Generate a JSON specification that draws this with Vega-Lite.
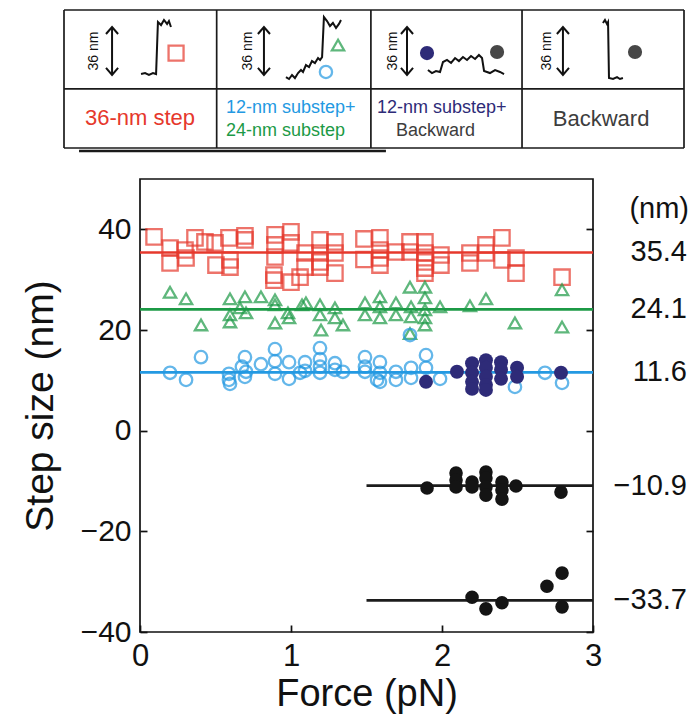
{
  "$schema": "https://vega.github.io/schema/vega-lite/v6.json",
  "width": 453,
  "height": 453,
  "autosize": {"type": "none"},
  "padding": {"left": 140, "top": 179, "right": 100, "bottom": 88},
  "background": "white",
  "config": {
    "font": "Liberation Sans",
    "view": {"stroke": "#111", "strokeWidth": 1.7}
  },
  "datasets": {
    "levels": [
      {"kind": "36-nm step", "step": 35.4, "from": 0, "to": 3, "label": "35.4"},
      {"kind": "24-nm substep", "step": 24.1, "from": 0, "to": 3, "label": "24.1"},
      {"kind": "12-nm substep", "step": 11.6, "from": 0, "to": 3, "label": "11.6"},
      {"kind": "backward", "step": -10.9, "from": 1.5, "to": 3, "label": "−10.9"},
      {"kind": "backward", "step": -33.7, "from": 1.5, "to": 3, "label": "−33.7"}
    ],
    "unit": [{"label": "(nm)", "at": 44}],
    "steps": [
      {"force": 0.093, "step": 38.5, "kind": "36-nm step"},
      {"force": 0.199, "step": 36.3, "kind": "36-nm step"},
      {"force": 0.199, "step": 33.3, "kind": "36-nm step"},
      {"force": 0.298, "step": 35.9, "kind": "36-nm step"},
      {"force": 0.305, "step": 34.3, "kind": "36-nm step"},
      {"force": 0.364, "step": 38.3, "kind": "36-nm step"},
      {"force": 0.430, "step": 37.5, "kind": "36-nm step"},
      {"force": 0.497, "step": 37.3, "kind": "36-nm step"},
      {"force": 0.503, "step": 32.9, "kind": "36-nm step"},
      {"force": 0.589, "step": 38.3, "kind": "36-nm step"},
      {"force": 0.596, "step": 33.9, "kind": "36-nm step"},
      {"force": 0.596, "step": 32.5, "kind": "36-nm step"},
      {"force": 0.695, "step": 38.7, "kind": "36-nm step"},
      {"force": 0.695, "step": 37.9, "kind": "36-nm step"},
      {"force": 0.894, "step": 38.9, "kind": "36-nm step"},
      {"force": 0.894, "step": 36.9, "kind": "36-nm step"},
      {"force": 0.894, "step": 34.5, "kind": "36-nm step"},
      {"force": 0.887, "step": 30.9, "kind": "36-nm step"},
      {"force": 0.887, "step": 29.9, "kind": "36-nm step"},
      {"force": 1.000, "step": 39.5, "kind": "36-nm step"},
      {"force": 1.000, "step": 37.3, "kind": "36-nm step"},
      {"force": 1.000, "step": 29.5, "kind": "36-nm step"},
      {"force": 1.093, "step": 35.3, "kind": "36-nm step"},
      {"force": 1.093, "step": 32.5, "kind": "36-nm step"},
      {"force": 1.060, "step": 30.5, "kind": "36-nm step"},
      {"force": 1.192, "step": 37.9, "kind": "36-nm step"},
      {"force": 1.192, "step": 35.3, "kind": "36-nm step"},
      {"force": 1.192, "step": 33.5, "kind": "36-nm step"},
      {"force": 1.192, "step": 32.5, "kind": "36-nm step"},
      {"force": 1.291, "step": 37.5, "kind": "36-nm step"},
      {"force": 1.291, "step": 35.3, "kind": "36-nm step"},
      {"force": 1.291, "step": 31.3, "kind": "36-nm step"},
      {"force": 1.483, "step": 38.1, "kind": "36-nm step"},
      {"force": 1.483, "step": 34.0, "kind": "36-nm step"},
      {"force": 1.589, "step": 38.3, "kind": "36-nm step"},
      {"force": 1.589, "step": 35.9, "kind": "36-nm step"},
      {"force": 1.589, "step": 34.3, "kind": "36-nm step"},
      {"force": 1.589, "step": 32.9, "kind": "36-nm step"},
      {"force": 1.695, "step": 35.5, "kind": "36-nm step"},
      {"force": 1.788, "step": 37.5, "kind": "36-nm step"},
      {"force": 1.788, "step": 35.5, "kind": "36-nm step"},
      {"force": 1.887, "step": 37.5, "kind": "36-nm step"},
      {"force": 1.887, "step": 35.3, "kind": "36-nm step"},
      {"force": 1.887, "step": 33.5, "kind": "36-nm step"},
      {"force": 1.887, "step": 32.3, "kind": "36-nm step"},
      {"force": 1.887, "step": 31.3, "kind": "36-nm step"},
      {"force": 1.993, "step": 34.9, "kind": "36-nm step"},
      {"force": 1.993, "step": 32.9, "kind": "36-nm step"},
      {"force": 2.185, "step": 35.3, "kind": "36-nm step"},
      {"force": 2.185, "step": 33.3, "kind": "36-nm step"},
      {"force": 2.291, "step": 36.9, "kind": "36-nm step"},
      {"force": 2.291, "step": 35.3, "kind": "36-nm step"},
      {"force": 2.397, "step": 38.3, "kind": "36-nm step"},
      {"force": 2.397, "step": 33.9, "kind": "36-nm step"},
      {"force": 2.490, "step": 34.3, "kind": "36-nm step"},
      {"force": 2.490, "step": 31.3, "kind": "36-nm step"},
      {"force": 2.795, "step": 30.5, "kind": "36-nm step"},

      {"force": 0.199, "step": 27.5, "kind": "24-nm substep"},
      {"force": 0.305, "step": 26.2, "kind": "24-nm substep"},
      {"force": 0.404, "step": 21.0, "kind": "24-nm substep"},
      {"force": 0.596, "step": 26.2, "kind": "24-nm substep"},
      {"force": 0.596, "step": 23.0, "kind": "24-nm substep"},
      {"force": 0.596, "step": 21.6, "kind": "24-nm substep"},
      {"force": 0.662, "step": 24.4, "kind": "24-nm substep"},
      {"force": 0.695, "step": 26.6, "kind": "24-nm substep"},
      {"force": 0.702, "step": 23.4, "kind": "24-nm substep"},
      {"force": 0.801, "step": 26.6, "kind": "24-nm substep"},
      {"force": 0.894, "step": 26.0, "kind": "24-nm substep"},
      {"force": 0.894, "step": 25.0, "kind": "24-nm substep"},
      {"force": 0.894, "step": 21.4, "kind": "24-nm substep"},
      {"force": 0.980, "step": 23.4, "kind": "24-nm substep"},
      {"force": 0.987, "step": 22.4, "kind": "24-nm substep"},
      {"force": 1.073, "step": 25.0, "kind": "24-nm substep"},
      {"force": 1.099, "step": 25.4, "kind": "24-nm substep"},
      {"force": 1.192, "step": 25.0, "kind": "24-nm substep"},
      {"force": 1.192, "step": 23.0, "kind": "24-nm substep"},
      {"force": 1.199, "step": 20.0, "kind": "24-nm substep"},
      {"force": 1.291, "step": 24.4, "kind": "24-nm substep"},
      {"force": 1.291, "step": 22.4, "kind": "24-nm substep"},
      {"force": 1.344, "step": 21.0, "kind": "24-nm substep"},
      {"force": 1.490, "step": 25.4, "kind": "24-nm substep"},
      {"force": 1.490, "step": 23.0, "kind": "24-nm substep"},
      {"force": 1.589, "step": 26.6, "kind": "24-nm substep"},
      {"force": 1.589, "step": 24.6, "kind": "24-nm substep"},
      {"force": 1.589, "step": 22.4, "kind": "24-nm substep"},
      {"force": 1.695, "step": 25.4, "kind": "24-nm substep"},
      {"force": 1.695, "step": 23.0, "kind": "24-nm substep"},
      {"force": 1.788, "step": 28.5, "kind": "24-nm substep"},
      {"force": 1.788, "step": 19.3, "kind": "24-nm substep"},
      {"force": 1.795, "step": 24.6, "kind": "24-nm substep"},
      {"force": 1.795, "step": 22.6, "kind": "24-nm substep"},
      {"force": 1.887, "step": 28.5, "kind": "24-nm substep"},
      {"force": 1.887, "step": 26.4, "kind": "24-nm substep"},
      {"force": 1.887, "step": 24.0, "kind": "24-nm substep"},
      {"force": 1.887, "step": 22.4, "kind": "24-nm substep"},
      {"force": 1.887, "step": 21.0, "kind": "24-nm substep"},
      {"force": 1.987, "step": 24.6, "kind": "24-nm substep"},
      {"force": 2.185, "step": 24.8, "kind": "24-nm substep"},
      {"force": 2.291, "step": 26.2, "kind": "24-nm substep"},
      {"force": 2.483, "step": 21.4, "kind": "24-nm substep"},
      {"force": 2.795, "step": 28.0, "kind": "24-nm substep"},
      {"force": 2.795, "step": 20.6, "kind": "24-nm substep"},

      {"force": 0.199, "step": 11.5, "kind": "12-nm substep"},
      {"force": 0.305, "step": 10.1, "kind": "12-nm substep"},
      {"force": 0.404, "step": 14.6, "kind": "12-nm substep"},
      {"force": 0.589, "step": 11.3, "kind": "12-nm substep"},
      {"force": 0.589, "step": 10.1, "kind": "12-nm substep"},
      {"force": 0.596, "step": 9.3, "kind": "12-nm substep"},
      {"force": 0.675, "step": 12.7, "kind": "12-nm substep"},
      {"force": 0.695, "step": 14.6, "kind": "12-nm substep"},
      {"force": 0.702, "step": 11.7, "kind": "12-nm substep"},
      {"force": 0.695, "step": 10.7, "kind": "12-nm substep"},
      {"force": 0.801, "step": 13.2, "kind": "12-nm substep"},
      {"force": 0.894, "step": 16.2, "kind": "12-nm substep"},
      {"force": 0.894, "step": 13.8, "kind": "12-nm substep"},
      {"force": 0.894, "step": 11.3, "kind": "12-nm substep"},
      {"force": 0.987, "step": 13.6, "kind": "12-nm substep"},
      {"force": 0.987, "step": 10.3, "kind": "12-nm substep"},
      {"force": 1.060, "step": 11.5, "kind": "12-nm substep"},
      {"force": 1.093, "step": 13.6, "kind": "12-nm substep"},
      {"force": 1.093, "step": 11.9, "kind": "12-nm substep"},
      {"force": 1.192, "step": 16.4, "kind": "12-nm substep"},
      {"force": 1.192, "step": 14.2, "kind": "12-nm substep"},
      {"force": 1.192, "step": 12.7, "kind": "12-nm substep"},
      {"force": 1.192, "step": 11.5, "kind": "12-nm substep"},
      {"force": 1.291, "step": 13.4, "kind": "12-nm substep"},
      {"force": 1.291, "step": 12.1, "kind": "12-nm substep"},
      {"force": 1.344, "step": 11.7, "kind": "12-nm substep"},
      {"force": 1.490, "step": 14.6, "kind": "12-nm substep"},
      {"force": 1.490, "step": 12.7, "kind": "12-nm substep"},
      {"force": 1.490, "step": 11.7, "kind": "12-nm substep"},
      {"force": 1.570, "step": 10.1, "kind": "12-nm substep"},
      {"force": 1.589, "step": 13.6, "kind": "12-nm substep"},
      {"force": 1.589, "step": 11.5, "kind": "12-nm substep"},
      {"force": 1.589, "step": 9.7, "kind": "12-nm substep"},
      {"force": 1.695, "step": 11.7, "kind": "12-nm substep"},
      {"force": 1.695, "step": 10.1, "kind": "12-nm substep"},
      {"force": 1.795, "step": 12.5, "kind": "12-nm substep"},
      {"force": 1.795, "step": 10.5, "kind": "12-nm substep"},
      {"force": 1.788, "step": 19.0, "kind": "12-nm substep"},
      {"force": 1.894, "step": 15.0, "kind": "12-nm substep"},
      {"force": 1.894, "step": 12.5, "kind": "12-nm substep"},
      {"force": 1.987, "step": 10.3, "kind": "12-nm substep"},
      {"force": 2.483, "step": 8.7, "kind": "12-nm substep"},
      {"force": 2.682, "step": 11.5, "kind": "12-nm substep"},
      {"force": 2.795, "step": 9.5, "kind": "12-nm substep"},

      {"force": 1.894, "step": 9.7, "kind": "12-nm substep+backward"},
      {"force": 2.099, "step": 11.7, "kind": "12-nm substep+backward"},
      {"force": 2.199, "step": 13.4, "kind": "12-nm substep+backward"},
      {"force": 2.199, "step": 11.5, "kind": "12-nm substep+backward"},
      {"force": 2.199, "step": 9.7, "kind": "12-nm substep+backward"},
      {"force": 2.199, "step": 8.3, "kind": "12-nm substep+backward"},
      {"force": 2.291, "step": 14.0, "kind": "12-nm substep+backward"},
      {"force": 2.291, "step": 12.5, "kind": "12-nm substep+backward"},
      {"force": 2.291, "step": 10.7, "kind": "12-nm substep+backward"},
      {"force": 2.291, "step": 9.1, "kind": "12-nm substep+backward"},
      {"force": 2.291, "step": 8.1, "kind": "12-nm substep+backward"},
      {"force": 2.391, "step": 13.6, "kind": "12-nm substep+backward"},
      {"force": 2.391, "step": 12.1, "kind": "12-nm substep+backward"},
      {"force": 2.391, "step": 10.3, "kind": "12-nm substep+backward"},
      {"force": 2.497, "step": 12.5, "kind": "12-nm substep+backward"},
      {"force": 2.497, "step": 10.7, "kind": "12-nm substep+backward"},
      {"force": 2.788, "step": 11.5, "kind": "12-nm substep+backward"},

      {"force": 1.901, "step": -11.4, "kind": "backward"},
      {"force": 2.093, "step": -8.4, "kind": "backward"},
      {"force": 2.093, "step": -9.8, "kind": "backward"},
      {"force": 2.093, "step": -11.2, "kind": "backward"},
      {"force": 2.199, "step": -10.2, "kind": "backward"},
      {"force": 2.199, "step": -11.2, "kind": "backward"},
      {"force": 2.291, "step": -8.2, "kind": "backward"},
      {"force": 2.291, "step": -9.4, "kind": "backward"},
      {"force": 2.291, "step": -11.2, "kind": "backward"},
      {"force": 2.291, "step": -12.8, "kind": "backward"},
      {"force": 2.397, "step": -10.2, "kind": "backward"},
      {"force": 2.397, "step": -11.8, "kind": "backward"},
      {"force": 2.397, "step": -13.6, "kind": "backward"},
      {"force": 2.490, "step": -11.0, "kind": "backward"},
      {"force": 2.788, "step": -12.2, "kind": "backward"},
      {"force": 2.199, "step": -33.1, "kind": "backward"},
      {"force": 2.291, "step": -35.4, "kind": "backward"},
      {"force": 2.397, "step": -34.2, "kind": "backward"},
      {"force": 2.695, "step": -30.9, "kind": "backward"},
      {"force": 2.795, "step": -28.3, "kind": "backward"},
      {"force": 2.795, "step": -35.0, "kind": "backward"}
    ],
    "frame": [
      {"part": "cell", "x": 0, "x2": 4, "y": 1, "y2": 1},
      {"part": "cell", "x": 0, "x2": 4, "y": 0.428, "y2": 0.428},
      {"part": "cell", "x": 0, "x2": 4, "y": 0, "y2": 0},
      {"part": "cell", "x": 0, "x2": 0, "y": 0, "y2": 1},
      {"part": "cell", "x": 0.985, "x2": 0.985, "y": 0, "y2": 1},
      {"part": "cell", "x": 1.98, "x2": 1.98, "y": 0, "y2": 1},
      {"part": "cell", "x": 2.955, "x2": 2.955, "y": 0, "y2": 1},
      {"part": "cell", "x": 4, "x2": 4, "y": 0, "y2": 1},
      {"part": "underline", "x": 0.097, "x2": 2.077, "y": -0.022, "y2": -0.022}
    ],
    "sketch": [
      {"seg": "trace 1", "i": 0, "x": 0.497, "y": 0.536},
      {"seg": "trace 1", "i": 1, "x": 0.523, "y": 0.543},
      {"seg": "trace 1", "i": 2, "x": 0.548, "y": 0.529},
      {"seg": "trace 1", "i": 3, "x": 0.574, "y": 0.543},
      {"seg": "trace 1", "i": 4, "x": 0.594, "y": 0.536},
      {"seg": "trace 1", "i": 5, "x": 0.606, "y": 0.913},
      {"seg": "trace 1", "i": 6, "x": 0.626, "y": 0.891},
      {"seg": "trace 1", "i": 7, "x": 0.645, "y": 0.928},
      {"seg": "trace 1", "i": 8, "x": 0.665, "y": 0.899},
      {"seg": "trace 1", "i": 9, "x": 0.677, "y": 0.920},
      {"seg": "trace 1", "i": 10, "x": 0.690, "y": 0.877},

      {"seg": "trace 2", "i": 0, "x": 1.432, "y": 0.514},
      {"seg": "trace 2", "i": 1, "x": 1.452, "y": 0.500},
      {"seg": "trace 2", "i": 2, "x": 1.471, "y": 0.529},
      {"seg": "trace 2", "i": 3, "x": 1.490, "y": 0.507},
      {"seg": "trace 2", "i": 4, "x": 1.510, "y": 0.543},
      {"seg": "trace 2", "i": 5, "x": 1.529, "y": 0.565},
      {"seg": "trace 2", "i": 6, "x": 1.542, "y": 0.551},
      {"seg": "trace 2", "i": 7, "x": 1.561, "y": 0.601},
      {"seg": "trace 2", "i": 8, "x": 1.581, "y": 0.587},
      {"seg": "trace 2", "i": 9, "x": 1.600, "y": 0.630},
      {"seg": "trace 2", "i": 10, "x": 1.619, "y": 0.616},
      {"seg": "trace 2", "i": 11, "x": 1.639, "y": 0.652},
      {"seg": "trace 2", "i": 12, "x": 1.652, "y": 0.638},
      {"seg": "trace 2", "i": 13, "x": 1.665, "y": 0.659},
      {"seg": "trace 2", "i": 14, "x": 1.677, "y": 0.949},
      {"seg": "trace 2", "i": 15, "x": 1.697, "y": 0.920},
      {"seg": "trace 2", "i": 16, "x": 1.716, "y": 0.884},
      {"seg": "trace 2", "i": 17, "x": 1.735, "y": 0.906},
      {"seg": "trace 2", "i": 18, "x": 1.755, "y": 0.870},
      {"seg": "trace 2", "i": 19, "x": 1.774, "y": 0.899},
      {"seg": "trace 2", "i": 20, "x": 1.787, "y": 0.928},

      {"seg": "trace 3", "i": 0, "x": 2.348, "y": 0.565},
      {"seg": "trace 3", "i": 1, "x": 2.374, "y": 0.543},
      {"seg": "trace 3", "i": 2, "x": 2.400, "y": 0.558},
      {"seg": "trace 3", "i": 3, "x": 2.426, "y": 0.551},
      {"seg": "trace 3", "i": 4, "x": 2.445, "y": 0.623},
      {"seg": "trace 3", "i": 5, "x": 2.471, "y": 0.638},
      {"seg": "trace 3", "i": 6, "x": 2.497, "y": 0.616},
      {"seg": "trace 3", "i": 7, "x": 2.523, "y": 0.652},
      {"seg": "trace 3", "i": 8, "x": 2.548, "y": 0.630},
      {"seg": "trace 3", "i": 9, "x": 2.574, "y": 0.659},
      {"seg": "trace 3", "i": 10, "x": 2.600, "y": 0.638},
      {"seg": "trace 3", "i": 11, "x": 2.626, "y": 0.667},
      {"seg": "trace 3", "i": 12, "x": 2.652, "y": 0.645},
      {"seg": "trace 3", "i": 13, "x": 2.677, "y": 0.674},
      {"seg": "trace 3", "i": 14, "x": 2.697, "y": 0.652},
      {"seg": "trace 3", "i": 15, "x": 2.710, "y": 0.558},
      {"seg": "trace 3", "i": 16, "x": 2.748, "y": 0.543},
      {"seg": "trace 3", "i": 17, "x": 2.781, "y": 0.565},
      {"seg": "trace 3", "i": 18, "x": 2.813, "y": 0.551},
      {"seg": "trace 3", "i": 19, "x": 2.839, "y": 0.536},

      {"seg": "trace 4", "i": 0, "x": 3.477, "y": 0.906},
      {"seg": "trace 4", "i": 1, "x": 3.490, "y": 0.928},
      {"seg": "trace 4", "i": 2, "x": 3.503, "y": 0.899},
      {"seg": "trace 4", "i": 3, "x": 3.510, "y": 0.913},
      {"seg": "trace 4", "i": 4, "x": 3.516, "y": 0.507},
      {"seg": "trace 4", "i": 5, "x": 3.542, "y": 0.500},
      {"seg": "trace 4", "i": 6, "x": 3.568, "y": 0.514},
      {"seg": "trace 4", "i": 7, "x": 3.587, "y": 0.500},
      {"seg": "trace 4", "i": 8, "x": 3.606, "y": 0.507},

      {"seg": "shaft 1", "i": 0, "x": 0.310, "y": 0.877},
      {"seg": "shaft 1", "i": 1, "x": 0.310, "y": 0.529},
      {"seg": "head 1 up", "i": 0, "x": 0.271, "y": 0.826},
      {"seg": "head 1 up", "i": 1, "x": 0.310, "y": 0.877},
      {"seg": "head 1 up", "i": 2, "x": 0.349, "y": 0.826},
      {"seg": "head 1 down", "i": 0, "x": 0.271, "y": 0.580},
      {"seg": "head 1 down", "i": 1, "x": 0.310, "y": 0.529},
      {"seg": "head 1 down", "i": 2, "x": 0.349, "y": 0.580},

      {"seg": "shaft 2", "i": 0, "x": 1.290, "y": 0.877},
      {"seg": "shaft 2", "i": 1, "x": 1.290, "y": 0.529},
      {"seg": "head 2 up", "i": 0, "x": 1.251, "y": 0.826},
      {"seg": "head 2 up", "i": 1, "x": 1.290, "y": 0.877},
      {"seg": "head 2 up", "i": 2, "x": 1.329, "y": 0.826},
      {"seg": "head 2 down", "i": 0, "x": 1.251, "y": 0.580},
      {"seg": "head 2 down", "i": 1, "x": 1.290, "y": 0.529},
      {"seg": "head 2 down", "i": 2, "x": 1.329, "y": 0.580},

      {"seg": "shaft 3", "i": 0, "x": 2.213, "y": 0.877},
      {"seg": "shaft 3", "i": 1, "x": 2.213, "y": 0.529},
      {"seg": "head 3 up", "i": 0, "x": 2.174, "y": 0.826},
      {"seg": "head 3 up", "i": 1, "x": 2.213, "y": 0.877},
      {"seg": "head 3 up", "i": 2, "x": 2.252, "y": 0.826},
      {"seg": "head 3 down", "i": 0, "x": 2.174, "y": 0.580},
      {"seg": "head 3 down", "i": 1, "x": 2.213, "y": 0.529},
      {"seg": "head 3 down", "i": 2, "x": 2.252, "y": 0.580},

      {"seg": "shaft 4", "i": 0, "x": 3.219, "y": 0.877},
      {"seg": "shaft 4", "i": 1, "x": 3.219, "y": 0.529},
      {"seg": "head 4 up", "i": 0, "x": 3.180, "y": 0.826},
      {"seg": "head 4 up", "i": 1, "x": 3.219, "y": 0.877},
      {"seg": "head 4 up", "i": 2, "x": 3.258, "y": 0.826},
      {"seg": "head 4 down", "i": 0, "x": 3.180, "y": 0.580},
      {"seg": "head 4 down", "i": 1, "x": 3.219, "y": 0.529},
      {"seg": "head 4 down", "i": 2, "x": 3.258, "y": 0.580}
    ],
    "scaleBars": [
      {"label": "36 nm", "x": 0.194, "y": 0.703},
      {"label": "36 nm", "x": 1.187, "y": 0.703},
      {"label": "36 nm", "x": 2.123, "y": 0.703},
      {"label": "36 nm", "x": 3.116, "y": 0.703}
    ],
    "keys": [
      {"kind": "36-nm step", "x": 0.723, "y": 0.688},
      {"kind": "24-nm substep", "x": 1.768, "y": 0.746},
      {"kind": "12-nm substep", "x": 1.690, "y": 0.551},
      {"kind": "12-nm substep+backward", "x": 2.342, "y": 0.688},
      {"kind": "backward", "x": 2.794, "y": 0.696},
      {"kind": "backward", "x": 3.684, "y": 0.696}
    ],
    "captionsCentered": [
      {"text": "36-nm step", "tone": "red", "x": 0.49, "y": 0.217},
      {"text": "Backward", "tone": "gray", "x": 3.465, "y": 0.21}
    ],
    "captionsLeft": [
      {"text": "12-nm substep+", "tone": "blue", "x": 1.045, "y": 0.29},
      {"text": "24-nm substep", "tone": "green", "x": 1.045, "y": 0.123},
      {"text": "12-nm substep+", "tone": "navy", "x": 2.019, "y": 0.29},
      {"text": "Backward", "tone": "gray", "x": 2.142, "y": 0.123}
    ]
  },
  "layer": [
    {
      "layer": [
        {
          "data": {"name": "levels"},
          "mark": {"type": "rule", "strokeWidth": 2.7},
          "encoding": {
            "x": {
              "field": "from", "type": "quantitative",
              "scale": {"domain": [0, 3], "nice": false, "zero": false},
              "axis": {
                "values": [0, 1, 2, 3], "format": "d", "title": "Force (pN)",
                "domain": false, "grid": false,
                "tickSize": -7, "tickWidth": 1.7, "tickColor": "#111",
                "labelPadding": 16, "labelFontSize": 31, "labelColor": "#111",
                "labelFlush": false, "labelOverlap": false,
                "titleFontSize": 38, "titleFontWeight": "normal", "titleColor": "#111",
                "titlePadding": 4
              }
            },
            "x2": {"field": "to"},
            "y": {
              "field": "step", "type": "quantitative",
              "scale": {"domain": [-40, 50], "nice": false, "zero": false},
              "axis": {
                "orient": "left",
                "values": [-40, -20, 0, 20, 40], "format": "d", "title": "Step size (nm)",
                "domain": false, "grid": false,
                "tickSize": -7, "tickWidth": 1.7, "tickColor": "#111",
                "labelPadding": 16, "labelFontSize": 30, "labelColor": "#111",
                "labelFlush": false, "labelOverlap": false,
                "titleFontSize": 39, "titleFontWeight": "normal", "titleColor": "#111",
                "titlePadding": 20
              }
            },
            "color": {
              "field": "kind", "type": "nominal", "legend": null,
              "scale": {
                "domain": ["36-nm step", "24-nm substep", "12-nm substep", "12-nm substep+backward", "backward"],
                "range": ["#e6382c", "#1c9a46", "#2399e2", "#2e2b78", "#1c1c1c"]
              }
            }
          }
        },
        {
          "data": {"name": "steps"},
          "transform": [{"filter": "datum.kind === '36-nm step'"}],
          "mark": {"type": "point", "shape": "square", "filled": false, "size": 235, "strokeWidth": 2.3, "color": "#e6382c"},
          "encoding": {
            "x": {"field": "force", "type": "quantitative"},
            "y": {
              "field": "step", "type": "quantitative",
              "axis": {
                "orient": "right", "values": [-40, -20, 0, 20, 40],
                "labels": false, "title": null, "domain": false, "grid": false,
                "tickSize": -7, "tickWidth": 1.7, "tickColor": "#111"
              }
            }
          }
        },
        {
          "data": {"name": "steps"},
          "transform": [{"filter": "datum.kind === '24-nm substep'"}],
          "mark": {"type": "point", "shape": "triangle-up", "filled": false, "size": 150, "strokeWidth": 2.3, "color": "#1c9a46"},
          "encoding": {
            "x": {"field": "force", "type": "quantitative"},
            "y": {"field": "step", "type": "quantitative", "axis": null}
          }
        },
        {
          "data": {"name": "steps"},
          "transform": [{"filter": "datum.kind === '12-nm substep'"}],
          "mark": {"type": "point", "shape": "circle", "filled": false, "size": 155, "strokeWidth": 2.3, "color": "#2399e2"},
          "encoding": {
            "x": {"field": "force", "type": "quantitative"},
            "y": {"field": "step", "type": "quantitative", "axis": null}
          }
        },
        {
          "data": {"name": "steps"},
          "transform": [{"filter": "datum.kind === '12-nm substep+backward'"}],
          "mark": {"type": "point", "shape": "circle", "filled": true, "opacity": 1, "size": 195, "color": "#2e2b78"},
          "encoding": {
            "x": {"field": "force", "type": "quantitative"},
            "y": {"field": "step", "type": "quantitative", "axis": null}
          }
        },
        {
          "data": {"name": "steps"},
          "transform": [{"filter": "datum.kind === 'backward'"}],
          "mark": {"type": "point", "shape": "circle", "filled": true, "opacity": 1, "size": 185, "color": "#141414"},
          "encoding": {
            "x": {"field": "force", "type": "quantitative"},
            "y": {"field": "step", "type": "quantitative", "axis": null}
          }
        },
        {
          "data": {"name": "levels"},
          "mark": {"type": "text", "align": "right", "baseline": "middle", "dx": 94, "fontSize": 29, "color": "#111"},
          "encoding": {
            "x": {"datum": 3, "type": "quantitative"},
            "y": {"field": "step", "type": "quantitative", "axis": null},
            "text": {"field": "label"}
          }
        },
        {
          "data": {"name": "unit"},
          "mark": {"type": "text", "align": "right", "baseline": "middle", "dx": 96, "fontSize": 29, "color": "#111"},
          "encoding": {
            "x": {"datum": 3, "type": "quantitative"},
            "y": {"field": "at", "type": "quantitative", "axis": null},
            "text": {"field": "label"}
          }
        }
      ],
      "resolve": {"axis": {"y": "independent"}}
    },
    {
      "layer": [
        {
          "data": {"name": "frame"},
          "transform": [{"filter": "datum.part === 'cell'"}],
          "mark": {"type": "rule", "strokeWidth": 1.7, "color": "#1a1a1a"},
          "encoding": {
            "x": {"field": "x", "type": "quantitative", "axis": null,
                  "scale": {"domain": [0, 4], "range": [-76, 544], "nice": false, "zero": false}},
            "x2": {"field": "x2"},
            "y": {"field": "y", "type": "quantitative", "axis": null,
                  "scale": {"domain": [0, 1], "range": [-31, -169], "nice": false, "zero": false}},
            "y2": {"field": "y2"}
          }
        },
        {
          "data": {"name": "frame"},
          "transform": [{"filter": "datum.part === 'underline'"}],
          "mark": {"type": "rule", "strokeWidth": 2.6, "color": "#1a1a1a"},
          "encoding": {
            "x": {"field": "x", "type": "quantitative"},
            "x2": {"field": "x2"},
            "y": {"field": "y", "type": "quantitative"},
            "y2": {"field": "y2"}
          }
        },
        {
          "data": {"name": "sketch"},
          "mark": {"type": "line", "strokeWidth": 2, "color": "#111", "strokeJoin": "miter"},
          "encoding": {
            "x": {"field": "x", "type": "quantitative"},
            "y": {"field": "y", "type": "quantitative"},
            "detail": {"field": "seg"},
            "order": {"field": "i"}
          }
        },
        {
          "data": {"name": "scaleBars"},
          "mark": {"type": "text", "angle": 270, "align": "center", "baseline": "middle", "fontSize": 14, "color": "#111"},
          "encoding": {
            "x": {"field": "x", "type": "quantitative"},
            "y": {"field": "y", "type": "quantitative"},
            "text": {"field": "label"}
          }
        },
        {
          "data": {"name": "keys"},
          "transform": [{"filter": "datum.kind === '36-nm step'"}],
          "mark": {"type": "point", "shape": "square", "filled": false, "size": 225, "strokeWidth": 2.3, "color": "#e6382c"},
          "encoding": {
            "x": {"field": "x", "type": "quantitative"},
            "y": {"field": "y", "type": "quantitative"}
          }
        },
        {
          "data": {"name": "keys"},
          "transform": [{"filter": "datum.kind === '24-nm substep'"}],
          "mark": {"type": "point", "shape": "triangle-up", "filled": false, "size": 150, "strokeWidth": 2.3, "color": "#1c9a46"},
          "encoding": {
            "x": {"field": "x", "type": "quantitative"},
            "y": {"field": "y", "type": "quantitative"}
          }
        },
        {
          "data": {"name": "keys"},
          "transform": [{"filter": "datum.kind === '12-nm substep'"}],
          "mark": {"type": "point", "shape": "circle", "filled": false, "size": 150, "strokeWidth": 2.3, "color": "#2399e2"},
          "encoding": {
            "x": {"field": "x", "type": "quantitative"},
            "y": {"field": "y", "type": "quantitative"}
          }
        },
        {
          "data": {"name": "keys"},
          "transform": [{"filter": "datum.kind === '12-nm substep+backward'"}],
          "mark": {"type": "point", "shape": "circle", "filled": true, "opacity": 1, "size": 200, "color": "#2e2b78"},
          "encoding": {
            "x": {"field": "x", "type": "quantitative"},
            "y": {"field": "y", "type": "quantitative"}
          }
        },
        {
          "data": {"name": "keys"},
          "transform": [{"filter": "datum.kind === 'backward'"}],
          "mark": {"type": "point", "shape": "circle", "filled": true, "opacity": 1, "size": 200, "color": "#474747"},
          "encoding": {
            "x": {"field": "x", "type": "quantitative"},
            "y": {"field": "y", "type": "quantitative"}
          }
        },
        {
          "data": {"name": "captionsCentered"},
          "mark": {"type": "text", "align": "center", "baseline": "middle", "fontSize": 22},
          "encoding": {
            "x": {"field": "x", "type": "quantitative"},
            "y": {"field": "y", "type": "quantitative"},
            "text": {"field": "text"},
            "color": {
              "field": "tone", "type": "nominal", "legend": null,
              "scale": {
                "domain": ["red", "blue", "green", "navy", "gray"],
                "range": ["#e6382c", "#2399e2", "#1c9a46", "#2e2b78", "#3d3d3d"]
              }
            }
          }
        },
        {
          "data": {"name": "captionsLeft"},
          "mark": {"type": "text", "align": "left", "baseline": "middle", "fontSize": 18},
          "encoding": {
            "x": {"field": "x", "type": "quantitative"},
            "y": {"field": "y", "type": "quantitative"},
            "text": {"field": "text"},
            "color": {"field": "tone", "type": "nominal", "legend": null}
          }
        }
      ]
    }
  ],
  "resolve": {"scale": {"x": "independent", "y": "independent", "color": "independent"}}
}
